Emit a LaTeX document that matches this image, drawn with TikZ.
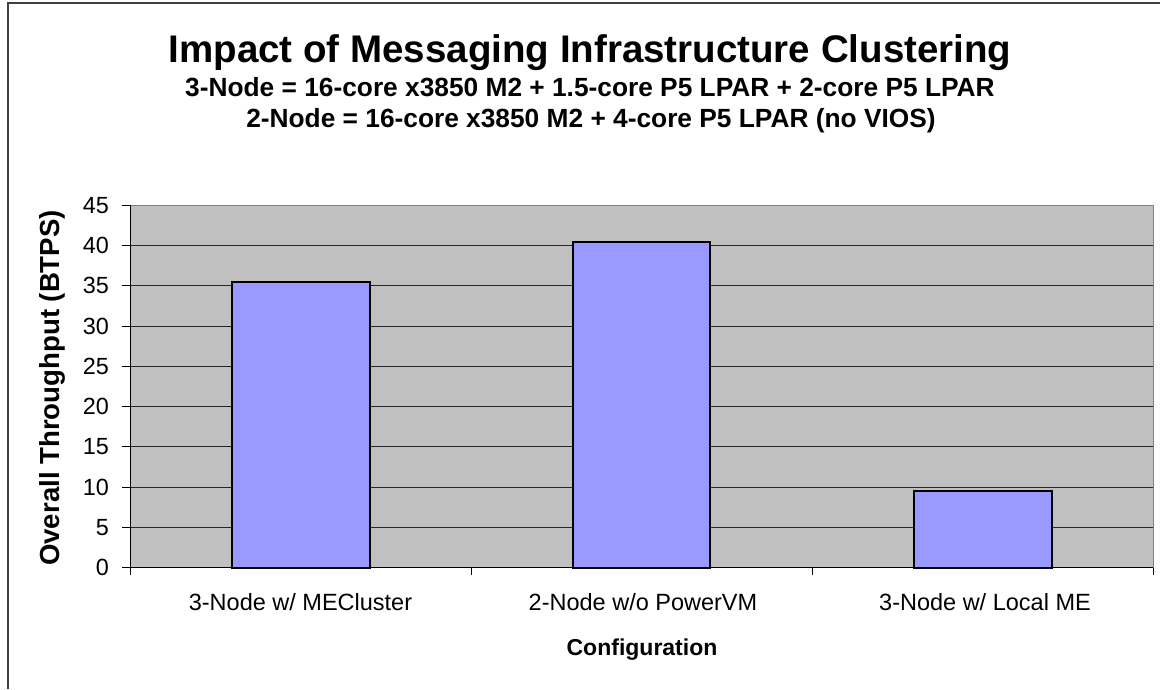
\documentclass[tikz,border=0pt]{standalone}
\usepackage{fontspec}
\setmainfont{Liberation Sans}
\definecolor{plotbg}{HTML}{C0C0C0}
\definecolor{barfill}{HTML}{9999FF}
\definecolor{framecol}{HTML}{404040}
\begin{document}
\begin{tikzpicture}[x=1pt,y=-1pt,
  ticklbl/.style={inner sep=0pt, anchor=east, font=\fontsize{23.4}{26}\selectfont},
  catlbl/.style={inner sep=0pt, anchor=base, font=\fontsize{23.5}{26}\selectfont},
  titlelbl/.style={inner sep=0pt, anchor=base, font=\bfseries\fontsize{38.5}{42}\selectfont},
  sublbl/.style={inner sep=0pt, anchor=base, font=\bfseries\fontsize{26.3}{30}\selectfont},
  axlbl/.style={inner sep=0pt, font=\bfseries\fontsize{23}{26}\selectfont},
  ylbl/.style={inner sep=0pt, rotate=90, font=\bfseries\fontsize{27.6}{30}\selectfont},
  gridline/.style={line width=1pt, black!85},
  barbox/.style={fill=barfill, draw=black, line width=2pt},
  axisline/.style={line width=1pt, black}]
\useasboundingbox (0,0) rectangle (1160,689);
\fill[white] (0,0) rectangle (1160,689);
% outer frame
\draw[line width=1.6pt, framecol] (8,689) -- (8,3) -- (1160,3);
% plot area
\fill[plotbg] (130,205) rectangle (1153,567.7);
\foreach \v in {5,10,...,45} {
  \draw[gridline] (130,{567.7-\v*8.051}) -- (1153,{567.7-\v*8.051});
}
\draw[line width=1pt, gray] (130,205) -- (1153,205) -- (1153,567.7);
% bars
\draw[barbox] (231.5,567.7) rectangle (369.5,{567.7-35.5*8.051});
\draw[barbox] (573.3,567.7) rectangle (709.5,{567.7-40.5*8.051});
\draw[barbox] (913.5,567.7) rectangle (1051.5,{567.7-9.5*8.051});
% axes
\draw[axisline] (130,205) -- (130,567.7) -- (1153,567.7);
\foreach \v in {0,5,...,45} {
  \draw[axisline] (122,{567.7-\v*8.051}) -- (130,{567.7-\v*8.051});
  \node[ticklbl] (t\v) at (109,{567.7-\v*8.051}) {\v};
}
\foreach \x in {130,471.7,812.3,1153} {
  \draw[axisline] (\x,567.7) -- (\x,575);
}
% category labels
\node[catlbl] (c1) at (300.5,610) {3-Node w/ MECluster};
\node[catlbl] (c2) at (643,610) {2-Node w/o PowerVM};
\node[catlbl] (c3) at (985,610) {3-Node w/ Local ME};
\node[axlbl, anchor=base] (xl) at (642,655) {Configuration};
\node[ylbl] (yl) at (52,388) {Overall Throughput (BTPS)};
% titles
\node[titlelbl] (title) at (590,62) {Impact of Messaging Infrastructure Clustering};
\node[sublbl] (s1) at (590,96) {3-Node = 16-core x3850 M2 + 1.5-core P5 LPAR + 2-core P5 LPAR};
\node[sublbl] (s2) at (591,127) {2-Node = 16-core x3850 M2 + 4-core P5 LPAR (no VIOS)};
\end{tikzpicture}
\end{document}
